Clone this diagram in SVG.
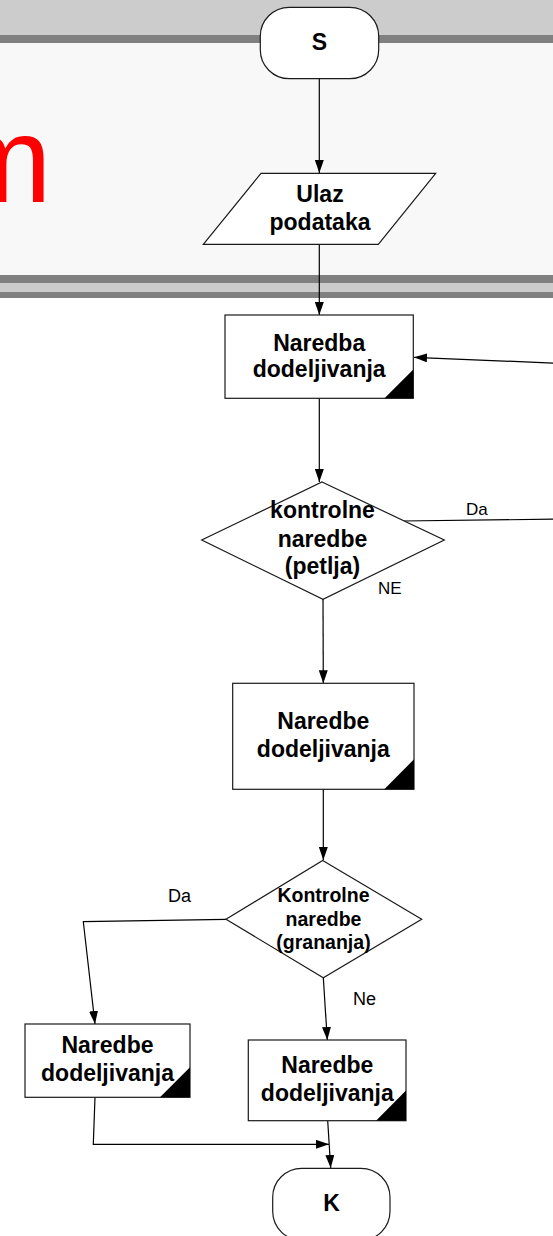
<svg xmlns="http://www.w3.org/2000/svg" width="553" height="1236" viewBox="0 0 553 1236">
<defs>
<style>
.node{fill:#ffffff;stroke:#1a1a1a;stroke-width:1.2}
.corner{fill:#000000;stroke:none}
.t{font-family:"Liberation Sans",Arial,sans-serif;font-weight:bold;font-size:23px;fill:#000;text-anchor:middle}
.ts{font-family:"Liberation Sans",Arial,sans-serif;font-weight:bold;font-size:19.5px;fill:#000;text-anchor:middle}
.lbl{font-family:"Liberation Sans",Arial,sans-serif;font-size:17px;fill:#000}
.lbl2{font-family:"Liberation Sans",Arial,sans-serif;font-size:18px;fill:#000}
.edge{fill:none;stroke:#000;stroke-width:1.2}
</style>
<marker id="arr" markerUnits="userSpaceOnUse" markerWidth="13" markerHeight="9" refX="13" refY="4.5" orient="auto">
<path d="M0,0 L13,4.5 L0,9 z" fill="#000"/>
</marker>
</defs>
<g id="background">
<rect x="0" y="0" width="553" height="298" fill="#cccccc"/>
<rect x="0" y="35" width="553" height="8" fill="#808080"/>
<rect x="0" y="43" width="553" height="232" fill="#f8f8f8"/>
<rect x="0" y="275" width="553" height="8" fill="#808080"/>
<rect x="0" y="292" width="553" height="6" fill="#808080"/>
<text x="-50" y="202" font-family="'Liberation Sans',Arial,sans-serif" font-size="122" fill="#ff0000">m</text>
</g>
<g id="connectors">
<path class="edge" d="M319.3,78.7 L319.3,173" marker-end="url(#arr)"/>
<path class="edge" d="M319.3,244 L319.3,315" marker-end="url(#arr)"/>
<path class="edge" d="M319.3,398.3 L319.3,482" marker-end="url(#arr)"/>
<path class="edge" d="M403,521 L570,519 L570,363.8 L414,357.3" marker-end="url(#arr)"/>
<path class="edge" d="M323,599 L323.3,683.3" marker-end="url(#arr)"/>
<path class="edge" d="M323.3,789.3 L323.3,860" marker-end="url(#arr)"/>
<path class="edge" d="M226,919.3 L83.3,921.7 L95,1024" marker-end="url(#arr)"/>
<path class="edge" d="M323.3,977.7 L327.3,1040" marker-end="url(#arr)"/>
<path class="edge" d="M327.7,1120.7 L330.7,1168" marker-end="url(#arr)"/>
<path class="edge" d="M95,1097.3 L93.3,1144.3 L329,1144.3" marker-end="url(#arr)"/>
<text class="lbl" x="466" y="515">Da</text>
<text class="lbl" x="378" y="594">NE</text>
<text class="lbl2" x="168" y="902">Da</text>
<text class="lbl2" x="353" y="1005">Ne</text>
</g>
<g id="start">
<rect class="node" x="260.3" y="7.3" width="118.4" height="71.4" rx="29" ry="29"/>
<text class="t" x="319.5" y="50">S</text>
</g>
<g id="input">
<polygon class="node" points="261,173.3 435.7,173.3 378.3,244.3 203.3,244.3"/>
<text class="t" x="320" y="202">Ulaz</text>
<text class="t" x="320" y="230">podataka</text>
</g>
<g id="assign1">
<rect class="node" x="225" y="315" width="188.3" height="83.3"/>
<polygon class="corner" points="413.3,369.5 413.3,398.3 384.5,398.3"/>
<text class="t" x="319.2" y="350.5">Naredba</text>
<text class="t" x="319.2" y="377">dodeljivanja</text>
</g>
<g id="loop">
<polygon class="node" points="322,482 444.3,540 323,599.3 201.7,540"/>
<text class="t" x="322.5" y="518">kontrolne</text>
<text class="t" x="322.5" y="546.5">naredbe</text>
<text class="t" x="322.5" y="574">(petlja)</text>
</g>
<g id="assign2">
<rect class="node" x="232.7" y="683.3" width="181.3" height="106"/>
<polygon class="corner" points="414,759.3 414,789.3 384.3,789.3"/>
<text class="t" x="323.3" y="729">Naredbe</text>
<text class="t" x="323.3" y="756.7">dodeljivanja</text>
</g>
<g id="branch">
<polygon class="node" points="322.7,860.5 421.7,919.3 323.3,977.7 226,919.3"/>
<text class="ts" x="323.5" y="901.7">Kontrolne</text>
<text class="ts" x="323.5" y="926">naredbe</text>
<text class="ts" x="323.5" y="949">(grananja)</text>
</g>
<g id="assign3">
<rect class="node" x="25" y="1024" width="165" height="73.3"/>
<polygon class="corner" points="190,1067.3 190,1097.3 160,1097.3"/>
<text class="t" x="107.5" y="1053.3">Naredbe</text>
<text class="t" x="107.5" y="1080.7">dodeljivanja</text>
</g>
<g id="assign4">
<rect class="node" x="248.3" y="1040" width="157.7" height="80.7"/>
<polygon class="corner" points="406,1090.5 406,1120.7 376,1120.7"/>
<text class="t" x="327.3" y="1073.3">Naredbe</text>
<text class="t" x="327.3" y="1100.7">dodeljivanja</text>
</g>
<g id="end">
<rect class="node" x="272.7" y="1168.3" width="117.3" height="72" rx="29" ry="29"/>
<text class="t" x="331.5" y="1211">K</text>
</g>
</svg>
